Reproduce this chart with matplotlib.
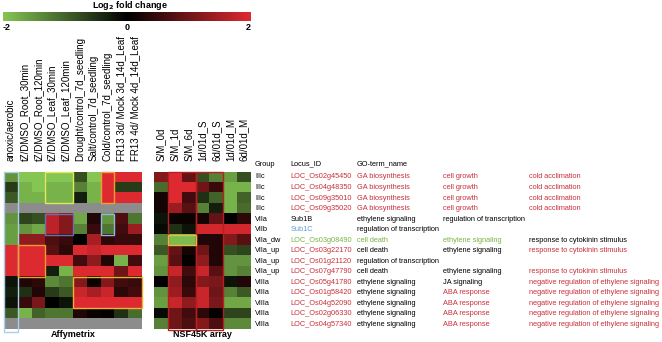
import numpy as np
import matplotlib
matplotlib.use('Agg')
import matplotlib.pyplot as plt
from matplotlib.colors import LinearSegmentedColormap, Normalize
from matplotlib.patches import Rectangle
from matplotlib.cm import ScalarMappable

plt.rcParams['font.family'] = ['Liberation Sans', 'DejaVu Sans']
plt.rcParams['axes.unicode_minus'] = False

nan = np.nan

# column labels of the two arrays
affy_labels = ['anoxic/aerobic', 'tZ/DMSO_Root_30min', 'tZ/DMSO_Root_120min',
               'tZ/DMSO_Leaf_30min', 'tZ/DMSO_Leaf_120min', 'Drought/control_7d_seedling',
               'Salt/control_7d_seedling', 'Cold/control_7d_seedling',
               'FR13 3d/ Mock 3d_14d_Leaf', 'FR13 4d/ Mock 4d_14d_Leaf']
nsf_labels = ['S/M_0d', 'S/M_1d', 'S/M_6d', '1d/01d_S', '6d/01d_S', '1d/01d_M', '6d/01d_M']

# log2 fold change (nan = no probe, gray)
affy = [
    [-1.5, -2.0, -2.0, -2.0, -2.0, -0.8, -2.0, 2.0, 2.0, 2.0],
    [-0.6, -1.8, -2.0, -1.8, -1.8, -1.3, -1.8, 2.0, -0.6, -0.6],
    [-0.9, -1.8, -1.8, -1.8, -1.8, -0.3, -1.8, 2.0, 2.0, 2.0],
    [nan, nan, nan, nan, nan, nan, nan, nan, nan, nan],
    [-1.5, -0.7, -0.8, 1.7, 1.2, -1.7, 0.3, -1.5, 0.7, -1.2],
    [-1.6, -1.5, -1.7, 1.7, 1.2, -1.3, 0.5, -1.2, 0.6, 1.4],
    [-1.6, 1.3, 1.3, 0.7, 0.5, 0.0, 1.5, 0.4, 0.5, 0.5],
    [2.0, 2.0, 2.0, 0.8, 0.4, 2.0, 1.8, 2.0, 2.0, 2.0],
    [2.0, 2.0, 2.0, 2.0, 2.0, 0.6, 1.3, 0.3, -1.8, 0.6],
    [2.0, 2.0, 2.0, -0.3, -1.8, 2.0, 2.0, 2.0, 1.0, 2.0],
    [-0.2, 0.3, 0.4, -1.4, -1.2, 1.2, 0.1, 1.2, 0.6, 0.5],
    [-0.3, -0.5, 0.3, -0.6, -0.9, 1.8, 1.5, 1.8, 0.4, 0.6],
    [-0.2, 0.5, 1.1, 0.0, -0.2, 2.0, 2.0, 2.0, 2.0, 2.0],
    [-0.9, -1.8, -1.0, -1.2, -1.2, 0.3, 0.1, 0.05, -0.5, -1.1],
    [nan, nan, nan, nan, nan, nan, nan, nan, nan, nan],
]
nsf = [
    [1.2, 2.0, 0.9, -0.8, -1.3, -1.6, -0.8],
    [-1.1, 2.0, 2.0, 1.0, 0.5, -1.8, -1.8],
    [0.2, 2.0, 0.6, -0.5, -1.0, -1.8, -1.0],
    [0.2, 1.4, 0.8, -1.3, -0.3, -1.8, -1.1],
    [-0.2, 0.1, 0.1, 0.2, 0.9, 0.0, 0.4],
    [-0.1, -0.5, -0.2, 1.9, 1.9, 1.9, 1.9],
    [-1.3, -1.9, -1.9, 0.3, 0.3, 1.2, 0.8],
    [-0.9, 0.9, 0.2, 1.0, 0.3, -0.8, -0.7],
    [-1.6, 0.8, 0.05, 1.3, 0.3, -1.5, -1.5],
    [-1.5, 1.8, 0.6, 1.8, 0.8, -1.5, -1.3],
    [0.0, 1.3, 0.4, 1.2, 1.1, -0.2, 0.3],
    [-1.5, 1.4, 0.5, 1.8, 1.0, -1.3, -0.9],
    [-1.6, 1.8, 1.3, 1.8, 1.1, -1.7, -1.7],
    [-0.1, 1.0, 0.6, 0.4, 0.05, -0.7, -0.7],
    [-1.3, 1.0, 0.7, 1.2, 0.7, -1.4, -1.4],
]

# gene table
groups = ['IIIc', 'IIIc', 'IIIc', 'IIIc', 'VIIa', 'VIIb', 'VIIa_dw', 'VIIa_up', 'VIIa_up',
          'VIIa_up', 'VIIIa', 'VIIIa', 'VIIIa', 'VIIIa', 'VIIIa']
loci = ['LOC_Os02g45450', 'LOC_Os04g48350', 'LOC_Os09g35010', 'LOC_Os09g35020', 'Sub1B',
        'Sub1C', 'LOC_Os03g08490', 'LOC_Os03g22170', 'LOC_Os01g21120', 'LOC_Os07g47790',
        'LOC_Os05g41780', 'LOC_Os01g58420', 'LOC_Os04g52090', 'LOC_Os02g06330', 'LOC_Os04g57340']
go_a = ['GA biosynthesis'] * 4 + ['ethylene signaling', 'regulation of transcription',
        'cell death', 'cell death', 'regulation of transcription', 'cell death'] + ['ethylene signaling'] * 5
go_b = ['cell growth'] * 4 + ['regulation of transcription', '', 'ethylene signaling',
        'ethylene signaling', '', 'ethylene signaling', 'JA signaling'] + ['ABA response'] * 4
go_c = ['cold acclimation'] * 4 + ['', '', 'response to cytokinin stimulus',
        'response to cytokinin stimulus', '', 'response to cytokinin stimulus'] + \
       ['negative regulation of ethylene signaling'] * 5

# text colours: k black, r red, g green, b blue
locus_col = ['r'] * 4 + ['k', 'b', 'g', 'r', 'r', 'r'] + ['r'] * 5
go_a_col = ['r'] * 4 + ['k', 'k', 'g', 'k', 'k', 'k'] + ['k'] * 5
go_b_col = ['r'] * 4 + ['k', 'k', 'g', 'k', 'k', 'k', 'k'] + ['r'] * 4
go_c_col = ['r'] * 4 + ['k', 'k', 'k', 'r', 'k', 'r'] + ['r'] * 5
tcol = {'k': 'black', 'r': '#c9303a', 'g': '#78b443', 'b': '#5a9fd0'}

W, H = 662, 342


def px(x0, x1, y0, y1):
    return [x0 / W, 1 - y1 / H, (x1 - x0) / W, (y1 - y0) / H]


cmap = LinearSegmentedColormap.from_list('gkr', ['#85c553', '#000000', '#dd2a30'])
cmap.set_bad('#8c8c8c')
norm = Normalize(-2, 2)

fig = plt.figure(figsize=(6.62, 3.42), dpi=100)

top, bot = 171.7, 329.5
n = len(groups)


def heat(ax, data, labels):
    arr = np.ma.masked_invalid(np.array(data))
    ax.imshow(arr, cmap=cmap, norm=norm, aspect='auto', interpolation='nearest',
              extent=(0, arr.shape[1], n, 0))
    ax.set_xticks(np.arange(len(labels)) + 0.5)
    ax.set_xticklabels(labels, rotation=90, fontsize=7)
    ax.xaxis.tick_top()
    ax.tick_params(length=0, pad=8)
    ax.set_yticks([])
    for s in ax.spines.values():
        s.set_visible(False)


def frame(ax, x0, x1, y0, y1, c):
    ax.add_patch(Rectangle((x0, y0), x1 - x0, y1 - y0, fill=False, ec=c, lw=1, clip_on=False))


ax1 = fig.add_axes(px(4, 142, top, bot))
heat(ax1, affy, affy_labels)
frame(ax1, 0, 1, 0, 15.2, '#a8d0e6')
frame(ax1, 3, 5, 0, 3, '#e6e65a')
frame(ax1, 7, 8, 0, 3, '#f0a030')
frame(ax1, 3, 5, 4, 6, '#6b6fb0')
frame(ax1, 7, 8, 4, 6, '#8fb8dc')
frame(ax1, 1, 3, 7, 10, '#f09a30')
frame(ax1, 5, 10, 10, 13, '#f0b030')
ax1.text(5, 15.5, 'Affymetrix', ha='center', va='center', fontsize=6.5, fontweight='bold',
         clip_on=False)

ax2 = fig.add_axes(px(154, 251, top, bot))
heat(ax2, nsf, nsf_labels)
frame(ax2, 1, 3, 0, 15, '#b82020')
frame(ax2, 3, 5, 0, 15, '#b82020')
frame(ax2, 1, 3, 6, 7, '#e8b840')
ax2.text(3.5, 15.5, 'NSF45K array', ha='center', va='center', fontsize=6.5, fontweight='bold',
         clip_on=False)

# table
ax3 = fig.add_axes(px(250, 662, top, bot))
ax3.set_xlim(250, 662)
ax3.set_ylim(n, 0)
ax3.axis('off')
fs = 5.3
hy = -0.73
for x, t in [(255, 'Group'), (290.7, 'Locus_ID'), (356.7, 'GO-term_name')]:
    ax3.text(x, hy, t, va='center', fontsize=fs, clip_on=False)
for i in range(n):
    y = i + 0.5
    ax3.text(255, y, groups[i], va='center', fontsize=fs)
    ax3.text(290.7, y, loci[i], va='center', fontsize=fs, color=tcol[locus_col[i]])
    ax3.text(356.7, y, go_a[i], va='center', fontsize=fs, color=tcol[go_a_col[i]])
    ax3.text(443.3, y, go_b[i], va='center', fontsize=fs, color=tcol[go_b_col[i]])
    ax3.text(528.7, y, go_c[i], va='center', fontsize=fs, color=tcol[go_c_col[i]])

# colour bar
cax = fig.add_axes(px(3, 251, 12, 21))
cb = fig.colorbar(ScalarMappable(norm=norm, cmap=cmap), cax=cax, orientation='horizontal',
                  ticks=[-2, 0, 2])
cb.outline.set_visible(False)
cax.tick_params(length=0, pad=1.5, labelsize=6.5)
labs = cax.get_xticklabels()
for t in labs:
    t.set_fontweight('bold')
labs[0].set_horizontalalignment('left')
labs[-1].set_horizontalalignment('right')
fig.text(130 / W, 1 - 6 / H, r'Log$_\mathbf{2}$ fold change', ha='center', va='center',
         fontsize=6.5, fontweight='bold')

fig.savefig('out.png', dpi=100)
